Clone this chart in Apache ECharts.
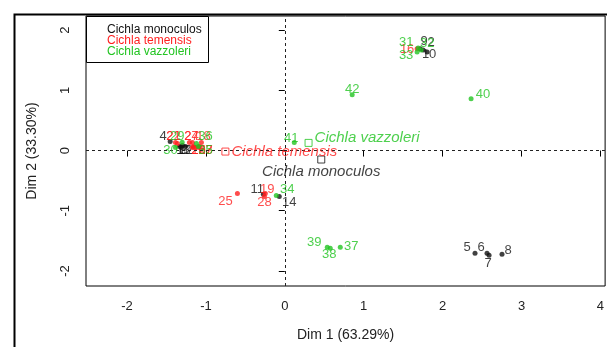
<!DOCTYPE html>
<html>
<head>
<meta charset="utf-8">
<script src="https://cdn.jsdelivr.net/npm/echarts@6/dist/echarts.min.js"></script>
<style>html,body{margin:0;padding:0;background:#fff}#c{width:607px;height:347px}</style>
</head>
<body>
<div id="c"></div>
<script>
// ---- data ----
const xTicks = [-2, -1, 0, 1, 2, 3, 4];
const yTicks = [-2, -1, 0, 1, 2];
const xTitle = 'Dim 1 (63.29%)';
const yTitle = 'Dim 2 (33.30%)';
const groupNames = ['Cichla monoculos', 'Cichla temensis', 'Cichla vazzoleri'];

const monoIds = [1, 2, 3, 4, 5, 6, 7, 8, 9, 10, 11, 12, 13, 14];
const monoX = [-1.335, 1.804, -1.310, -1.453, 2.411, 2.563, 2.589, 2.753, 1.715, 1.753, -0.272, -1.259, -1.297, -0.070];
const monoY = [0.066, 1.639, 0.050, 0.149, -1.705, -1.705, -1.738, -1.722, 1.689, 1.672, -0.728, 0.066, 0.083, -0.762];

const temIds = [15, 16, 17, 18, 19, 20, 21, 22, 23, 24, 25, 26, 27, 28];
const temX = [-1.171, 1.677, -1.082, -1.057, -0.247, -1.158, -1.361, -1.386, -1.095, -1.171, -0.601, -1.146, -1.209, -0.259];
const temY = [0.050, 1.689, 0.066, 0.132, -0.712, 0.066, 0.116, 0.132, 0.050, 0.132, -0.712, 0.050, 0.132, -0.762];

const vazIds = [29, 30, 31, 32, 33, 34, 35, 36, 37, 38, 39, 40, 41, 42];
const vazX = [-1.301, -1.386, 1.690, 1.728, 1.677, -0.108, -1.095, -1.120, 0.703, 0.576, 0.538, 2.361, 0.120, 0.854];
const vazY = [0.137, 0.050, 1.705, 1.672, 1.639, -0.745, 0.066, 0.116, -1.606, -1.623, -1.606, 0.861, 0.132, 0.927];

const centroidX = [0.462, -0.753, 0.301];
const centroidY = [-0.149, -0.017, 0.127];

// ---- styling ----
const FONT = "'Liberation Sans', Arial, sans-serif";
const COLORS = ['#111111', '#ff1f1f', '#22c422'];
// label offsets (pixels) relative to each point
const LABEL_OFFSET = {
  1:[1,4], 2:[4,-9], 3:[3,3], 4:[-7,-5], 5:[-8,-6], 6:[-6,-6], 7:[-1,8], 8:[6,-4],
  9:[4,-7], 10:[6,5], 11:[-6,-5], 12:[0,4], 13:[1,5], 14:[10,6],
  15:[6,3], 16:[-10,1], 17:[6,4], 18:[2,-6], 19:[2,-4], 20:[5,4], 21:[-4,-7],
  22:[-2,-6], 23:[7,3], 24:[-1,-6], 25:[-12,8], 26:[4,3], 27:[2,-6], 28:[0,6],
  29:[-5,-6], 30:[-5,3], 31:[-12,-5], 32:[6,-6], 33:[-11,4], 34:[11,-6], 35:[7,4],
  36:[9,-7], 37:[11,-1], 38:[-1,6], 39:[-13,-5], 40:[12,-4], 41:[-3,-4], 42:[0,-5]
};

function pointSeries(name, ids, xs, ys, color, z) {
  return {
    type: 'scatter', name: name, symbol: 'circle', symbolSize: 5,
    itemStyle: { color: color },
    label: { show: true, position: 'inside', color: color, fontSize: 13, fontFamily: FONT,
             textBorderWidth: 0, formatter: p => p.name },
    data: ids.map((id, i) => ({ name: String(id), value: [xs[i], ys[i]],
                                label: { offset: LABEL_OFFSET[id] || [0, -8] } })),
    z: z
  };
}

const centroidLabelStyle = [
  { position: 'bottom', distance: 1, offset: [0, 0] },
  { position: 'right', distance: 2, offset: [0, 0] },
  { position: 'right', distance: 2, offset: [0, -5] }
];

const centroidSeries = {
  type: 'scatter', symbol: 'rect', symbolSize: 7, z: 6,
  itemStyle: { color: 'rgba(0,0,0,0)', borderWidth: 1 },
  data: groupNames.map((g, i) => ({
    name: g, value: [centroidX[i], centroidY[i]],
    itemStyle: { borderColor: COLORS[i] },
    label: Object.assign({ show: true, color: COLORS[i], fontStyle: 'italic', fontSize: 15,
                           fontFamily: FONT, formatter: p => p.name }, centroidLabelStyle[i])
  }))
};

const refLines = {
  type: 'scatter', data: [], silent: true,
  markLine: {
    silent: true, symbol: ['none', 'none'], label: { show: false },
    lineStyle: { type: [3, 3], color: '#222', width: 1 },
    data: [{ xAxis: 0 }, { yAxis: 0 }]
  }
};

const chart = echarts.init(document.getElementById('c'), null, { renderer: 'canvas' });
chart.setOption({
  animation: false,
  backgroundColor: '#fff',
  grid: { left: 86, right: 1, top: 16, bottom: 60, show: true, borderColor: '#000', borderWidth: 1 },
  xAxis: {
    type: 'value', min: -2.52, max: 4.06,
    name: xTitle, nameLocation: 'middle', nameGap: 42,
    nameTextStyle: { fontSize: 14, color: '#222', fontFamily: FONT },
    axisLine: { show: false },
    axisTick: { show: true, length: 6, lineStyle: { color: '#000' }, customValues: xTicks },
    axisLabel: { margin: 14, fontSize: 13, color: '#222', fontFamily: FONT, customValues: xTicks },
    splitLine: { show: false }
  },
  yAxis: {
    type: 'value', min: -2.25, max: 2.235,
    name: yTitle, nameLocation: 'middle', nameGap: 47, nameRotate: 90,
    nameTextStyle: { fontSize: 14, color: '#222', fontFamily: FONT },
    axisLine: { show: false },
    axisTick: { show: true, length: 6, lineStyle: { color: '#000' }, customValues: yTicks },
    axisLabel: { margin: 14, rotate: 90, fontSize: 13, color: '#222', fontFamily: FONT, customValues: yTicks },
    splitLine: { show: false }
  },
  graphic: [
    { type: 'rect', left: 12, top: 12, shape: { width: 600, height: 340 },
      style: { fill: 'none', stroke: '#000', lineWidth: 2 }, z: 10 },
    { type: 'rect', left: 86, top: 16, shape: { width: 122, height: 46 },
      style: { fill: '#fff', stroke: '#000', lineWidth: 1 }, z: 10 },
    { type: 'text', left: 107, top: 24, z: 11,
      style: { text: groupNames[0], fill: COLORS[0], font: '12px ' + FONT } },
    { type: 'text', left: 107, top: 35, z: 11,
      style: { text: groupNames[1], fill: COLORS[1], font: '12px ' + FONT } },
    { type: 'text', left: 107, top: 46, z: 11,
      style: { text: groupNames[2], fill: COLORS[2], font: '12px ' + FONT } }
  ],
  series: [
    refLines,
    pointSeries(groupNames[0], monoIds, monoX, monoY, COLORS[0], 3),
    pointSeries(groupNames[1], temIds, temX, temY, COLORS[1], 4),
    pointSeries(groupNames[2], vazIds, vazX, vazY, COLORS[2], 5),
    centroidSeries
  ]
});
</script>
</body>
</html>
